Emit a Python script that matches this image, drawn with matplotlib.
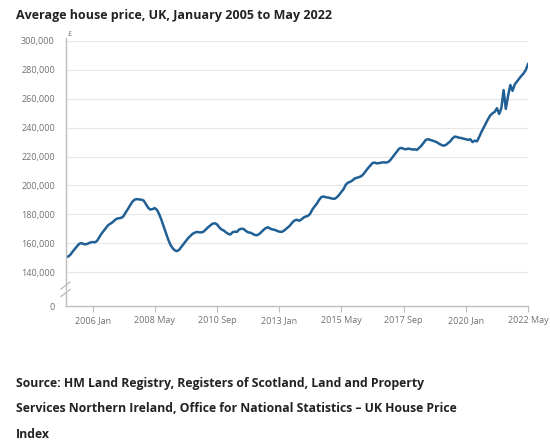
import matplotlib.pyplot as plt
import pandas as pd

# average UK house price (thousand £), monthly, Jan 2005 - May 2022
prices = [
    150.6, 150.7, 152.0, 154.0, 156.0, 157.8, 159.6, 160.0, 159.4, 159.2, 159.8, 160.5,  # 2005
    160.8, 160.6, 161.5, 164.0, 166.5, 168.5, 170.5, 172.5, 173.5, 174.5, 176.0, 177.0,  # 2006
    177.3, 177.6, 178.8, 181.5, 183.8, 186.5, 188.8, 190.2, 190.5, 190.3, 190.1, 189.5,  # 2007
    187.0, 184.5, 183.3, 183.6, 184.3, 183.0, 180.0, 176.0, 171.5, 167.0, 162.5, 159.0,  # 2008
    156.5, 155.0, 154.5, 155.5, 157.5, 159.5, 161.5, 163.5, 165.0, 166.5, 167.3, 167.8,  # 2009
    167.5, 167.5, 168.0, 169.5, 171.0, 172.3, 173.5, 173.8, 173.0, 171.0, 169.5, 168.8,  # 2010
    167.5, 166.5, 166.0, 167.5, 168.0, 167.8, 169.5, 170.0, 169.8, 168.5, 167.5, 167.3,  # 2011
    166.5, 165.7, 165.5, 166.3, 167.8, 169.3, 170.5, 171.0, 170.0, 169.5, 169.2, 168.5,  # 2012
    168.0, 167.8, 168.5, 169.8, 171.0, 172.5, 174.5, 175.8, 176.2, 175.5, 176.5, 177.8,  # 2013
    178.5, 179.0, 180.5, 183.5, 185.5, 187.5, 190.0, 192.0, 192.3, 191.8, 191.6, 191.2,  # 2014
    190.8, 190.8, 191.8, 193.5, 195.5, 197.5, 200.5, 202.0, 202.5, 203.5, 204.8, 205.3,  # 2015
    205.8, 206.5, 208.0, 210.0, 212.0, 213.8, 215.5, 215.8, 215.2, 215.5, 215.8, 216.0,  # 2016
    215.8, 216.2, 217.5, 219.5, 221.5, 223.5, 225.5, 226.0, 225.3, 225.0, 225.5, 225.2,  # 2017
    224.8, 225.0, 224.6, 226.0, 227.5, 229.5, 231.5, 232.0, 231.5, 231.0, 230.5, 229.8,  # 2018
    228.8, 228.0, 227.5, 228.0, 229.2, 230.5, 232.5, 233.8, 233.5, 233.0, 232.8, 232.3,  # 2019
    232.0, 231.5, 232.0, 230.0, 231.0, 230.5, 233.5, 237.0, 240.0, 243.0, 246.0, 248.5,  # 2020
    250.0, 251.0, 253.5, 249.5, 253.5, 266.0, 253.0, 262.0, 269.5, 265.5, 270.0, 272.0,  # 2021
    274.0, 276.0, 277.5, 280.0, 284.0,  # 2022
]
months = pd.date_range("2005-01-01", periods=len(prices), freq="MS")

x_labels = ["2006 Jan", "2008 May", "2010 Sep", "2013 Jan",
            "2015 May", "2017 Sep", "2020 Jan", "2022 May"]
y_ticks = [140, 160, 180, 200, 220, 240, 260, 280, 300]
y_floor = 116.5  # where the broken axis shows 0

title = "Average house price, UK, January 2005 to May 2022"
source_lines = [
    "Source: HM Land Registry, Registers of Scotland, Land and Property",
    "Services Northern Ireland, Office for National Statistics \u2013 UK House Price",
    "Index",
]

plt.rcParams['font.family'] = ['Open Sans', 'DejaVu Sans']

fig = plt.figure(figsize=(5.5, 4.46), dpi=100)
ax = fig.add_axes([66/550, 1 - 306/446, 462/550, 265/446])

ax.plot(months, prices, color="#206095", lw=1.8, solid_joinstyle="round")

ax.set_xlim(months[0], months[-1])
ax.set_ylim(y_floor, 300)

xt = [pd.to_datetime(l, format="%Y %b") for l in x_labels]
ax.set_xticks(xt)
ax.set_xticklabels(x_labels)
ax.set_yticks([y_floor] + y_ticks)
ax.set_yticklabels(["0"] + [f"{v*1000:,.0f}" for v in y_ticks])

for v in y_ticks:
    ax.axhline(v, color="#e8e8e8", lw=0.9, zorder=0)

ax.tick_params(axis="x", length=4, width=0.8, color="#bdbdbd",
               labelsize=6.5, labelcolor="#707070", pad=3)
ax.tick_params(axis="y", length=0, labelsize=6.5, labelcolor="#707070", pad=8)

for s in ["top", "right", "left"]:
    ax.spines[s].set_visible(False)
ax.spines["bottom"].set_color("#bdbdbd")
ax.spines["bottom"].set_linewidth(1.0)

# left axis with a break
def fy(py):
    return (306 - py) / 265
ax.plot([0, 0], [fy(288.5), 1.01], transform=ax.transAxes, color="#bdbdbd",
        lw=1.0, clip_on=False)
ax.plot([0, 0], [0, fy(291)], transform=ax.transAxes, color="#bdbdbd",
        lw=1.0, clip_on=False)
for py in (285.5, 293):
    ax.plot([-5/462, 4/462], [fy(py + 3.5), fy(py - 3.5)], transform=ax.transAxes,
            color="#bdbdbd", lw=1.0, clip_on=False)

fig.text(68/550, 1 - 35/446, "£", fontsize=5, color="#707070", ha="left", va="center")

fig.text(16/550, 1 - 15/446, title, fontsize=9.0, fontweight="bold",
         color="#222222", ha="left", va="center")

for i, line in enumerate(source_lines):
    fig.text(16/550, 1 - (383 + 25.5*i)/446, line, fontsize=8.85,
             fontweight="bold", color="#222222", ha="left", va="center")

fig.savefig("out.png", dpi=100)
